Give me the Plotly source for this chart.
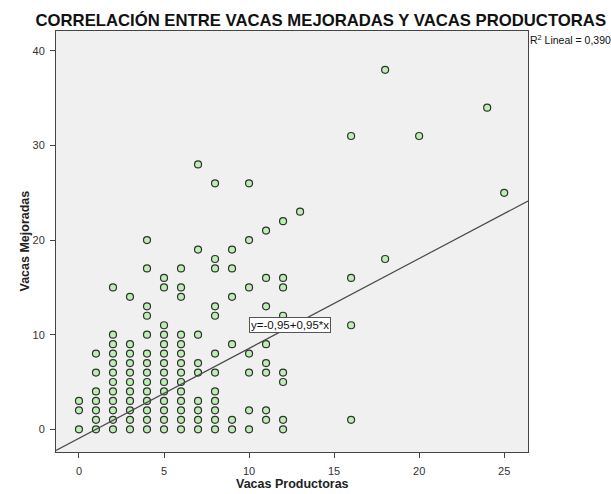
import plotly.graph_objects as go

# Vacas productoras (x) vs vacas mejoradas (y), one entry per visible point
vacas_productoras = [
    0, 0, 0,
    1, 1, 1, 1, 1, 1, 1,
    2, 2, 2, 2, 2, 2, 2, 2, 2, 2, 2, 2,
    3, 3, 3, 3, 3, 3, 3, 3, 3, 3, 3,
    4, 4, 4, 4, 4, 4, 4, 4, 4, 4, 4, 4, 4, 4,
    5, 5, 5, 5, 5, 5, 5, 5, 5, 5, 5, 5, 5, 5,
    6, 6, 6, 6, 6, 6, 6, 6, 6, 6, 6, 6, 6, 6,
    7, 7, 7, 7, 7, 7, 7, 7, 7,
    8, 8, 8, 8, 8, 8, 8, 8, 8, 8, 8, 8,
    9, 9, 9, 9, 9, 9,
    10, 10, 10, 10, 10, 10, 10,
    11, 11, 11, 11, 11, 11, 11, 11,
    12, 12, 12, 12, 12, 12, 12, 12,
    13,
    16, 16, 16, 16,
    18, 18,
    20,
    24,
    25,
]
vacas_mejoradas = [
    0, 2, 3,
    0, 1, 2, 3, 4, 6, 8,
    0, 1, 2, 3, 4, 5, 6, 7, 8, 9, 10, 15,
    0, 1, 2, 3, 4, 5, 6, 7, 8, 9, 14,
    0, 1, 2, 3, 4, 5, 6, 7, 8, 10, 12, 13, 17, 20,
    0, 1, 2, 3, 4, 5, 6, 7, 8, 9, 10, 11, 15, 16,
    0, 1, 2, 3, 4, 5, 6, 7, 8, 9, 10, 14, 15, 17,
    0, 1, 2, 3, 6, 7, 10, 19, 28,
    0, 1, 2, 3, 4, 6, 8, 12, 13, 17, 18, 26,
    0, 1, 9, 14, 17, 19,
    0, 2, 6, 8, 15, 20, 26,
    1, 2, 6, 7, 9, 13, 16, 21,
    0, 1, 5, 6, 12, 15, 16, 22,
    23,
    1, 11, 16, 31,
    18, 38,
    31,
    34,
    25,
]

# linear fit reported by SPSS
intercepto = -0.95
pendiente = 0.95
r2_lineal = "0,390"

x_ticks = [0, 5, 10, 15, 20, 25]
y_ticks = [0, 10, 20, 30, 40]

x_range = [-1.35, 26.4]
y_range = [-2.4, 42.1]

font_family = "Liberation Sans, Arial, sans-serif"

fig = go.Figure()

fig.add_trace(go.Scatter(
    x=vacas_productoras,
    y=vacas_mejoradas,
    mode='markers',
    marker=dict(size=7, color='#BDEFB5', line=dict(color='#303030', width=1.2)),
    showlegend=False,
    cliponaxis=False
))

fit_x = x_range
fit_y = [intercepto + pendiente * v for v in fit_x]
fig.add_trace(go.Scatter(
    x=fit_x, y=fit_y,
    mode='lines',
    line=dict(color='#4a4a4a', width=1.2),
    showlegend=False,
    hoverinfo='skip'
))

axis_style = dict(
    showline=True, linecolor='#444444', linewidth=1, mirror=True,
    showgrid=False, zeroline=False,
    ticks='outside', ticklen=5, tickcolor='#444444',
    tickfont=dict(family=font_family, size=11, color='#333333'),
)

fig.update_layout(
    width=611, height=494,
    margin=dict(l=56, r=83, t=31, b=42),
    paper_bgcolor='white',
    plot_bgcolor='#F0F0F0',
    font=dict(family=font_family, color='#222222'),
    title=dict(
        text='<b>CORRELACIÓN ENTRE VACAS MEJORADAS Y VACAS PRODUCTORAS</b>',
        x=0.525, xanchor='center', xref='container',
        y=0.96, yanchor='middle', yref='container',
        font=dict(family=font_family, size=16.7, color='#111111')
    ),
    xaxis=dict(range=x_range, tickvals=x_ticks, ticklabelstandoff=4, **axis_style),
    yaxis=dict(range=y_range, tickvals=y_ticks, ticklabelstandoff=3, **axis_style),
    annotations=[
        dict(text='<b>Vacas Productoras</b>', xref='paper', yref='paper',
             x=0.5, y=0, yshift=-32, xanchor='center', yanchor='middle',
             showarrow=False, font=dict(family=font_family, size=12.5, color='#222222')),
        dict(text='<b>Vacas Mejoradas</b>', xref='paper', yref='paper',
             x=0, y=0.5, xshift=-32, textangle=-90, xanchor='center', yanchor='middle',
             showarrow=False, font=dict(family=font_family, size=12.5, color='#222222')),
        dict(text='R<sup>2</sup> Lineal = ' + r2_lineal, xref='paper', yref='paper',
             x=1, y=1, xanchor='left', yanchor='top', xshift=0,
             showarrow=False, font=dict(family=font_family, size=10.5, color='#111111')),
        dict(text='y=' + f'{intercepto:.2f}'.replace('.', ',') + '+' +
             f'{pendiente:.2f}'.replace('.', ',') + '*x',
             x=10.0, y=11.0, xref='x', yref='y', xanchor='left', yanchor='middle',
             showarrow=False, bgcolor='white', bordercolor='#555555', borderwidth=1,
             borderpad=1, font=dict(family=font_family, size=11.5, color='#111111')),
    ]
)

# the page body has an 8px margin by default, drop it so the figure fills the window
fig.write_html("out.html", config={'displayModeBar': False},
               post_script="document.body.style.margin = '0';")
